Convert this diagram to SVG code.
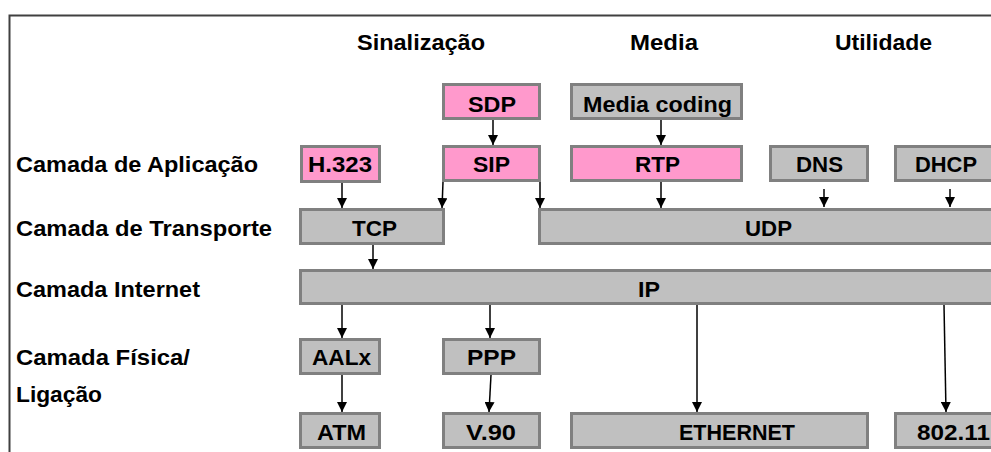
<svg xmlns="http://www.w3.org/2000/svg" width="991" height="452" viewBox="0 0 991 452">
<defs>
<marker id="ah" markerUnits="userSpaceOnUse" markerWidth="10" markerHeight="10" viewBox="0 0 9 9" refX="9" refY="4.5" orient="auto">
<path d="M0,0 L9,4.5 L0,9 z" fill="#000"/>
</marker>
<style>
text{font-family:"Liberation Sans",Arial,sans-serif;font-weight:bold;font-size:22px;fill:#000}
.g{fill:#C0C0C0;stroke:#808080;stroke-width:3}
.p{fill:#FF99CC;stroke:#808080;stroke-width:3}
.c line{stroke:#000;stroke-width:1.5;marker-end:url(#ah)}
</style>
</defs>
<rect x="0" y="0" width="991" height="452" fill="#fff"/>
<rect x="9.5" y="15.5" width="1000" height="500" fill="none" stroke="#404040" stroke-width="2"/>
<g id="headers">
<text x="357" y="50" textLength="128" lengthAdjust="spacingAndGlyphs">Sinalização</text>
<text x="630" y="50" textLength="68" lengthAdjust="spacingAndGlyphs">Media</text>
<text x="835" y="50" textLength="97" lengthAdjust="spacingAndGlyphs">Utilidade</text>
</g>
<g id="rows">
<text x="16" y="172" textLength="242" lengthAdjust="spacingAndGlyphs">Camada de Aplicação</text>
<text x="16" y="236" textLength="256" lengthAdjust="spacingAndGlyphs">Camada de Transporte</text>
<text x="16" y="297" textLength="184" lengthAdjust="spacingAndGlyphs">Camada Internet</text>
<text x="16" y="365" textLength="174" lengthAdjust="spacingAndGlyphs">Camada Física/</text>
<text x="16" y="402" textLength="86" lengthAdjust="spacingAndGlyphs">Ligação</text>
</g>
<g class="c" id="connectors">
<line x1="493" y1="120" x2="493" y2="145"/>
<line x1="661" y1="120" x2="661" y2="145"/>
<line x1="342" y1="183" x2="342" y2="208"/>
<line x1="443" y1="182" x2="442" y2="208"/>
<line x1="540" y1="182" x2="540" y2="208"/>
<line x1="661" y1="182" x2="661" y2="208"/>
<line x1="824" y1="189" x2="824" y2="207"/>
<line x1="950" y1="189" x2="950" y2="207"/>
<line x1="373" y1="245" x2="373" y2="269"/>
<line x1="342" y1="305" x2="342" y2="338"/>
<line x1="490" y1="305" x2="490" y2="338"/>
<line x1="342" y1="375" x2="342" y2="412"/>
<line x1="491" y1="375" x2="489" y2="412"/>
<line x1="697" y1="305" x2="697" y2="412"/>
<line x1="944" y1="305" x2="946" y2="412"/>
</g>
<g id="sdp"><rect class="p" x="443.5" y="84.5" width="96" height="34"/><text x="468" y="112" textLength="48" lengthAdjust="spacingAndGlyphs">SDP</text></g>
<g id="mediacoding"><rect class="g" x="571.5" y="84.5" width="170" height="34"/><text x="583" y="112" textLength="149" lengthAdjust="spacingAndGlyphs">Media coding</text></g>
<g id="h323"><rect class="p" x="301.5" y="146.5" width="78" height="35"/><text x="308" y="172" textLength="64" lengthAdjust="spacingAndGlyphs">H.323</text></g>
<g id="sip"><rect class="p" x="443.5" y="146.5" width="96" height="34"/><text x="473" y="172" textLength="37" lengthAdjust="spacingAndGlyphs">SIP</text></g>
<g id="rtp"><rect class="p" x="571.5" y="146.5" width="170" height="34"/><text x="635" y="172" textLength="45" lengthAdjust="spacingAndGlyphs">RTP</text></g>
<g id="dns"><rect class="g" x="770.5" y="146.5" width="97" height="34"/><text x="796" y="172" textLength="47" lengthAdjust="spacingAndGlyphs">DNS</text></g>
<g id="dhcp"><rect class="g" x="895.5" y="146.5" width="120" height="34"/><text x="915" y="172" textLength="62" lengthAdjust="spacingAndGlyphs">DHCP</text></g>
<g id="tcp"><rect class="g" x="300.5" y="209.5" width="143" height="34"/><text x="352" y="236" textLength="45" lengthAdjust="spacingAndGlyphs">TCP</text></g>
<g id="udp"><rect class="g" x="539.5" y="209.5" width="480" height="34"/><text x="745" y="236" textLength="47" lengthAdjust="spacingAndGlyphs">UDP</text></g>
<g id="ip"><rect class="g" x="300.5" y="270.5" width="720" height="33"/><text x="638" y="297" textLength="22" lengthAdjust="spacingAndGlyphs">IP</text></g>
<g id="aalx"><rect class="g" x="300.5" y="339.5" width="79" height="34"/><text x="312" y="365" textLength="59" lengthAdjust="spacingAndGlyphs">AALx</text></g>
<g id="ppp"><rect class="g" x="443.5" y="339.5" width="96" height="34"/><text x="467" y="365" textLength="49" lengthAdjust="spacingAndGlyphs">PPP</text></g>
<g id="atm"><rect class="g" x="300.5" y="413.5" width="79" height="34"/><text x="317" y="440" textLength="49" lengthAdjust="spacingAndGlyphs">ATM</text></g>
<g id="v90"><rect class="g" x="443.5" y="413.5" width="96" height="34"/><text x="466" y="440" textLength="50" lengthAdjust="spacingAndGlyphs">V.90</text></g>
<g id="ethernet"><rect class="g" x="571.5" y="413.5" width="296" height="34"/><text x="679" y="440" textLength="116" lengthAdjust="spacingAndGlyphs">ETHERNET</text></g>
<g id="w80211"><rect class="g" x="895.5" y="413.5" width="120" height="34"/><text x="917" y="440" textLength="73" lengthAdjust="spacingAndGlyphs">802.11</text></g>
</svg>
